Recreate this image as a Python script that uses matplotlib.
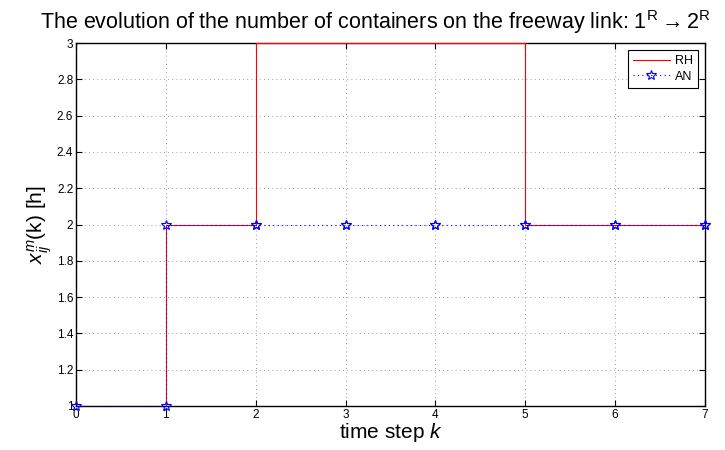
import numpy as np
import matplotlib
matplotlib.use("Agg")
import matplotlib.pyplot as plt

plt.rcParams['font.family'] = ['Liberation Sans', 'DejaVu Sans']
plt.rcParams['mathtext.fontset'] = 'custom'
plt.rcParams['mathtext.rm'] = 'Liberation Sans'
plt.rcParams['mathtext.it'] = 'Liberation Sans:italic'

k = [0, 1, 2, 3, 4, 5, 6, 7]
rh = [1, 2, 3, 3, 3, 2, 2, 2]
an = [1, 2, 2, 2, 2, 2, 2, 2]
xticks = [0, 1, 2, 3, 4, 5, 6, 7]
yticks = [1, 1.2, 1.4, 1.6, 1.8, 2, 2.2, 2.4, 2.6, 2.8, 3]
ytick_labels = ['1', '1.2', '1.4', '1.6', '1.8', '2', '2.2', '2.4', '2.6', '2.8', '3']


def stairs(x, y):
    x = np.asarray(x, float)
    y = np.asarray(y, float)
    xx = np.repeat(x, 2)[1:]
    yy = np.repeat(y, 2)[:-1]
    return xx, yy


fig = plt.figure(figsize=(7.25, 4.5), dpi=100)
ax = fig.add_axes([76 / 725, 1 - 406 / 450, (705 - 76) / 725, (406 - 43) / 450])

xr, yr = stairs(k, rh)
xa, ya = stairs(k, an)
ax.plot(xr, yr, color='red', lw=0.8, label='RH', zorder=3)
ax.plot(xa, ya, color='blue', lw=0.8, ls=(0, (1, 3)), marker='*', markersize=7,
        markerfacecolor='none', markeredgecolor='blue', markeredgewidth=0.8,
        label='AN', zorder=4, clip_on=False)

ax.set_xlim(0, 7)
ax.set_ylim(1, 3)
ax.set_xticks(xticks)
ax.set_yticks(yticks)
ax.set_yticklabels(ytick_labels)
ax.tick_params(direction='in', length=4, width=0.8, labelsize=8.5, pad=2,
               top=True, right=True)
ax.grid(True, color='#808080', ls=(0, (1, 4)), lw=0.6)
for s in ax.spines.values():
    s.set_linewidth(1.0)

ax.set_xlabel('time step $\\it{k}$', fontsize=15, labelpad=0)
ax.set_ylabel('$x^m_{ij}$(k) [h]', fontsize=15, labelpad=2)
ax.set_title('The evolution of the number of containers on the freeway link: '
             '1$^{\\mathrm{R}}$$\\rightarrow$2$^{\\mathrm{R}}$',
             fontsize=15.5, loc='left', x=-0.058, pad=10)

leg = ax.legend(loc='upper right', fontsize=9, frameon=True, fancybox=False,
                edgecolor='black', framealpha=1, borderpad=0.4,
                handlelength=3.0, labelspacing=0.3, borderaxespad=0.55,
                handletextpad=0.4)
leg.get_frame().set_linewidth(0.8)

fig.savefig('out.png', dpi=100)
